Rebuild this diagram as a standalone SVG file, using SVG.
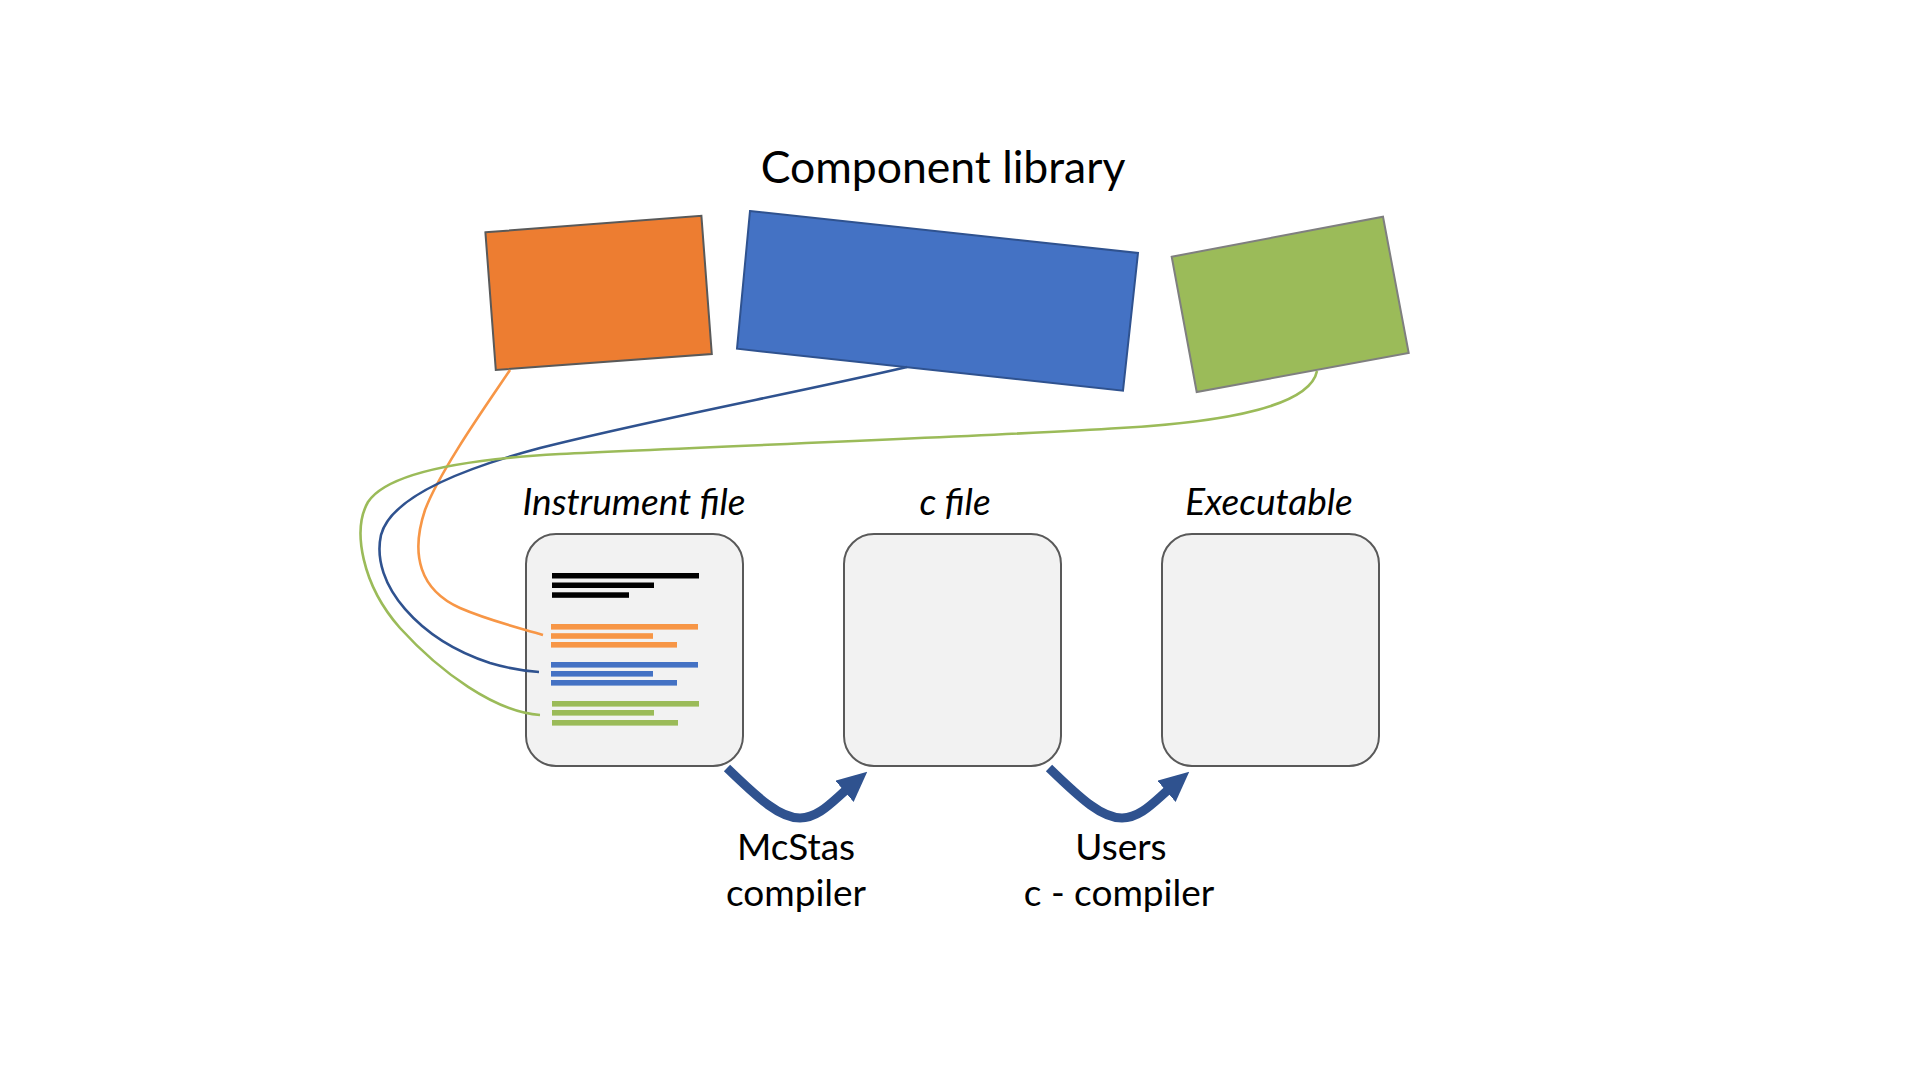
<svg xmlns="http://www.w3.org/2000/svg" width="1920" height="1080" viewBox="0 0 1920 1080">
<style>
.lbl{font-family:Lato,"Liberation Sans",sans-serif;fill:#000;text-anchor:middle}
.it{font-style:italic;font-size:37px}
.box{fill:#F2F2F2;stroke:#595959;stroke-width:2}
.conn{fill:none;stroke-width:2.6}
.arr{fill:none;stroke:#2F528F;stroke-width:9}
</style>
<defs>
<marker id="ah" viewBox="0 0 30 28" refX="2" refY="14" markerWidth="30" markerHeight="28" markerUnits="userSpaceOnUse" orient="auto">
<path d="M0,0 L30,14 L0,28 z" fill="#2F528F"/>
</marker>
</defs>
<rect width="1920" height="1080" fill="#fff"/>
<text class="lbl" x="943" y="183" font-size="44.5">Component library</text>
<g id="comp-orange"><polygon points="485.4,232.3 701.4,215.7 711.8,354 495.8,370" fill="#ED7D31" stroke="#595959" stroke-width="2"/></g>
<g id="comp-blue"><polygon points="750,211 1138,253 1123,390.7 737,348.7" fill="#4472C4" stroke="#2F528F" stroke-width="2"/></g>
<g id="comp-green"><polygon points="1171.7,256.7 1383,216.7 1408.7,353 1196.7,392" fill="#9BBB59" stroke="#7F7F7F" stroke-width="2"/></g>
<g id="instrument">
<text class="lbl it" x="634" y="515">Instrument file</text>
<rect class="box" x="526" y="534" width="217" height="232" rx="30"/>
<g fill="#000"><rect x="552" y="573" width="147" height="5.5"/><rect x="552" y="582.5" width="102" height="5.5"/><rect x="552" y="592.3" width="77" height="5.5"/></g>
<g fill="#F79646"><rect x="551" y="624" width="147" height="5.6"/><rect x="551" y="633.2" width="102" height="5.6"/><rect x="551" y="642" width="126" height="5.6"/></g>
<g fill="#4472C4"><rect x="551" y="662" width="147" height="5.6"/><rect x="551" y="671" width="102" height="5.6"/><rect x="551" y="680" width="126" height="5.6"/></g>
<g fill="#9BBB59"><rect x="552" y="701" width="147" height="5.6"/><rect x="552" y="710" width="102" height="5.6"/><rect x="552" y="720" width="126" height="5.6"/></g>
</g>
<g id="cfile">
<text class="lbl it" x="955" y="515">c file</text>
<rect class="box" x="844" y="534" width="217" height="232" rx="30"/>
</g>
<g id="executable">
<text class="lbl it" x="1269" y="515">Executable</text>
<rect class="box" x="1162" y="534" width="217" height="232" rx="30"/>
</g>
<g id="connectors">
<path class="conn" stroke="#F79646" d="M510,370 C490,400 440,470 425,510 C410,555 420,590 460,608 C490,621 520,628 543,635"/>
<path class="conn" stroke="#2F528F" d="M907,367 C800,392 650,420 540,448 C450,472 390,500 381,535 C370,585 420,640 490,663 C510,669 525,671 539,672"/>
<path class="conn" stroke="#9BBB59" d="M1317,371 C1310,405 1230,422 1120,428 C1000,436 700,447 560,454 C450,460 385,476 368,502 C352,530 362,585 400,628 C440,672 495,712 540,715"/>
<path class="arr" marker-end="url(#ah)" d="M727,768 C760,800 780,818 800,818 C818,818 832,802 846,790"/>
<path class="arr" marker-end="url(#ah)" d="M1049,768 C1082,800 1102,818 1122,818 C1140,818 1154,802 1168,790"/>
</g>
<g id="labels">
<text class="lbl" x="796" y="860" font-size="37">McStas</text>
<text class="lbl" x="796" y="906" font-size="37">compiler</text>
<text class="lbl" x="1121" y="860" font-size="37">Users</text>
<text class="lbl" x="1119" y="906" font-size="37">c - compiler</text>
</g>
</svg>
